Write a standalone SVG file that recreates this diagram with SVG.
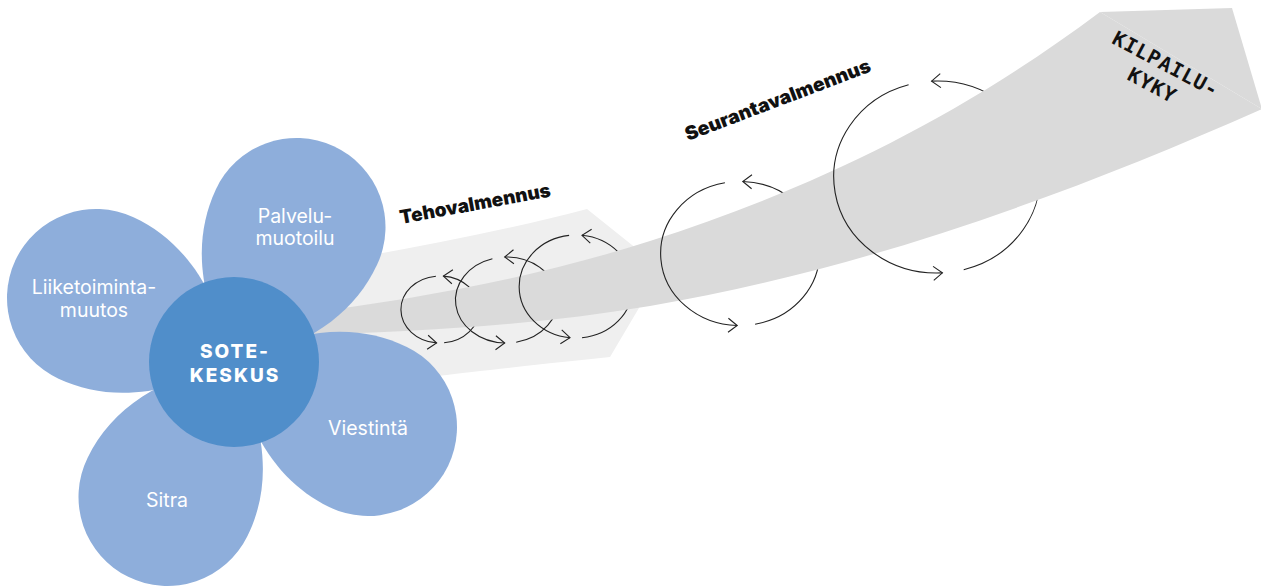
<svg xmlns="http://www.w3.org/2000/svg" width="1261" height="588" viewBox="0 0 1261 588">
<defs>
<style>
.light{fill:#efefef}
.dark{fill:#dadada}
.petal{fill:#8eaedb}
.core{fill:#508eca}
.arc{fill:none;stroke:#222;stroke-width:1.1;marker-end:url(#ah)}
.lbl{font-family:Inter,"Liberation Sans",sans-serif;font-size:19.5px;fill:#fff;text-anchor:middle}
.core-lbl{font-family:Inter,"Liberation Sans",sans-serif;font-size:19px;font-weight:800;letter-spacing:2px;fill:#fff;text-anchor:middle}
.band-lbl{font-family:Inter,"Liberation Sans",sans-serif;font-size:19px;font-weight:900;fill:#111}
.mono{font-family:"DejaVu Sans Mono","Liberation Mono",monospace;font-size:20px;font-weight:bold;letter-spacing:1px;fill:#111;text-anchor:middle}
</style>
<marker id="ah" viewBox="-11 -9 12 18" markerWidth="12" markerHeight="18" refX="0" refY="0" orient="auto" markerUnits="userSpaceOnUse" overflow="visible">
<path d="M-9,-7 L0,0 L-9,7" fill="none" stroke="#222" stroke-width="1.1"/>
</marker>
<path id="petal" d="M-89,0 A89,89 0 0 1 89,0 C89,55 60,105 0,150 C-60,105 -89,55 -89,0Z"/>
</defs>

<g id="tehovalmennus-band">
<path class="light" d="M300,268 C400,250 500,232 587,209 L662,269 L610,357 C540,364 470,372 300,392 Z"/>
</g>

<g id="connectors-back">
<path class="arc" d="M444.1,342.8 A39,33.5 0 0 0 443.4,276.1"/>
<path class="arc" d="M516.2,342.2 A51,43 0 0 0 504.7,257.0"/>
<path class="arc" d="M582.0,337.7 A57,51.5 0 0 0 582.0,235.3"/>
<path class="arc" d="M755.1,324.2 A79,72 0 0 0 742.8,181.5"/>
<path class="arc" d="M963.7,269.7 A103,96 0 0 0 931.6,81.1"/>
</g>

<g id="kilpailukyky-arrow">
<path class="dark" d="M300,314 C417,298.8 533,278.4 650,241 C800,193 950,124.5 1100,12 L1262,109 C1057,199.8 854,271.3 650,306 C533,325.9 417,331.5 300,335 Z"/>
<path class="dark" d="M1100,12 L1232,8 L1262,109 Z"/>
<g transform="translate(1162.5,70.2) rotate(28)">
<text class="mono" x="0" y="0">KILPAILU-</text>
<text class="mono" x="-2" y="25">KYKY</text>
</g>
</g>

<g id="connectors-front">
<path class="arc" d="M435.9,276.2 A39,33.5 0 0 0 436.6,342.9"/>
<path class="arc" d="M492.4,258.7 A51,43 0 0 0 504.7,343.0"/>
<path class="arc" d="M569.1,235.4 A57,51.5 0 0 0 570.0,337.7"/>
<path class="arc" d="M724.9,182.8 A79,72 0 0 0 737.2,325.5"/>
<path class="arc" d="M908.6,84.7 A103,96 0 0 0 942.4,272.9"/>
</g>

<g id="node-palvelumuotoilu">
<use href="#petal" class="petal" transform="translate(296.5,227) rotate(24.8)"/>
<text class="lbl" x="295" y="223">Palvelu-</text>
<text class="lbl" x="295" y="245">muotoilu</text>
</g>
<g id="node-liiketoimintamuutos">
<use href="#petal" class="petal" transform="translate(96,298) rotate(-65.1)"/>
<text class="lbl" x="94" y="294">Liiketoiminta-</text>
<text class="lbl" x="94" y="317">muutos</text>
</g>
<g id="node-sitra">
<use href="#petal" class="petal" transform="translate(167.5,497) rotate(206.2)"/>
<text class="lbl" x="167" y="507">Sitra</text>
</g>
<g id="node-viestinta">
<use href="#petal" class="petal" transform="translate(368,427) rotate(115.9)"/>
<text class="lbl" x="368" y="435">Viestintä</text>
</g>
<g id="node-sote-keskus">
<circle class="core" cx="234" cy="362" r="85"/>
<text class="core-lbl" x="235" y="358">SOTE-</text>
<text class="core-lbl" x="235" y="382">KESKUS</text>
</g>

<g id="label-tehovalmennus">
<text class="band-lbl" transform="translate(401,224) rotate(-10.4)" textLength="153" lengthAdjust="spacingAndGlyphs">Tehovalmennus</text>
</g>
<g id="label-seurantavalmennus">
<text class="band-lbl" transform="translate(688,141) rotate(-20.8)" textLength="197" lengthAdjust="spacingAndGlyphs">Seurantavalmennus</text>
</g>
</svg>
